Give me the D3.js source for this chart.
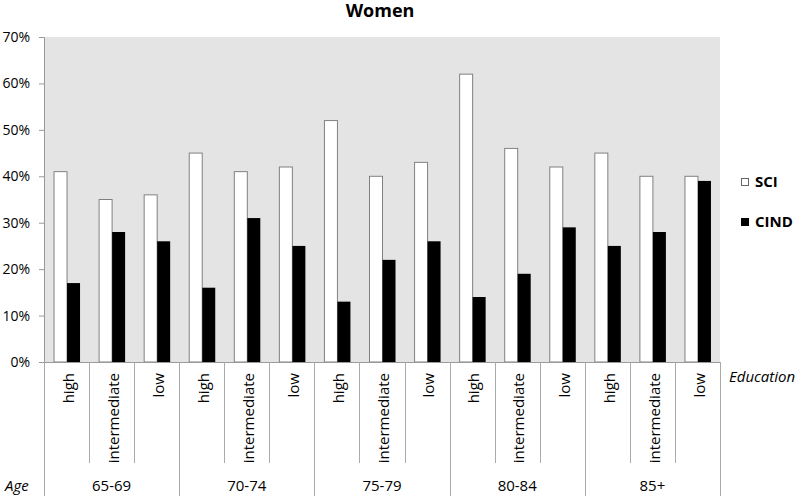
<!DOCTYPE html>
<html>
<head>
<meta charset="utf-8">
<style>
  body { margin: 0; background: #fff; }
  text { font-family: "Open Sans", sans-serif; fill: #000; }
  .title { font-weight: bold; font-size: 18px; }
  .tick text { font-size: 14px; font-family: "Open Sans", sans-serif; }
  .edu { font-size: 15px; }
  .age { font-size: 15px; }
  .lab { font-size: 15px; font-style: italic; }
  .legend text { font-size: 15px; font-weight: bold; }
</style>
</head>
<body>
<svg id="chart" width="800" height="496"></svg>
<script src="https://cdn.jsdelivr.net/npm/d3@7"></script>
<script>
var ages = ['65-69', '70-74', '75-79', '80-84', '85+'];
var education = ['high', 'intermediate', 'low'];
var sci = [41, 35, 36, 45, 41, 42, 52, 40, 43, 62, 46, 42, 45, 40, 40];
var cind = [17, 28, 26, 16, 31, 25, 13, 22, 26, 14, 19, 29, 25, 28, 39];
var yTicks = [0, 10, 20, 30, 40, 50, 60, 70];

var svg = d3.select('#chart');
var plotLeft = 44, plotRight = 720, plotTop = 37, plotBottom = 362;

var cats = [];
ages.forEach(function(a) {
  education.forEach(function(e) { cats.push(a + '|' + e); });
});

var x = d3.scaleBand().domain(cats).range([plotLeft, plotRight]).padding(0);
var y = d3.scaleLinear().domain([0, 70]).range([plotBottom, plotTop]);
var bw = 13;

// plot background
svg.append('rect')
  .attr('x', plotLeft).attr('y', plotTop)
  .attr('width', plotRight - plotLeft).attr('height', plotBottom - plotTop)
  .attr('fill', '#e4e4e4');

svg.append('text').attr('class', 'title')
  .attr('x', 380).attr('y', 17).attr('text-anchor', 'middle')
  .text('Women');

// y axis
var yAxis = svg.append('g')
  .attr('transform', 'translate(' + plotLeft + ',0)')
  .call(d3.axisLeft(y).tickValues(yTicks).tickSize(5).tickPadding(9)
    .tickFormat(function(d) { return d + '%'; }));
yAxis.select('.domain').attr('stroke', '#999');
yAxis.selectAll('.tick line').attr('stroke', '#999');
yAxis.selectAll('.tick text').attr('font-size', null).attr('font-family', null).attr('fill', '#000');

// bars
svg.selectAll('.sci').data(sci).enter().append('rect')
  .attr('class', 'sci')
  .attr('x', function(d, i) { return x(cats[i]) + x.bandwidth() / 2 - bw + 0.5; })
  .attr('y', function(d) { return y(d); })
  .attr('width', bw)
  .attr('height', function(d) { return plotBottom - y(d); })
  .attr('fill', '#fff').attr('stroke', '#808080').attr('stroke-width', 1);

svg.selectAll('.cind').data(cind).enter().append('rect')
  .attr('class', 'cind')
  .attr('x', function(d, i) { return x(cats[i]) + x.bandwidth() / 2 + 0.5; })
  .attr('y', function(d) { return y(d); })
  .attr('width', bw)
  .attr('height', function(d) { return plotBottom - y(d); })
  .attr('fill', '#000');

// x axis line
svg.append('line')
  .attr('x1', plotLeft).attr('x2', plotRight).attr('y1', plotBottom + 0.5).attr('y2', plotBottom + 0.5)
  .attr('stroke', '#999');

// separators
cats.forEach(function(c, i) {
  var xx = Math.round(x(c)) + 0.5;
  svg.append('line')
    .attr('x1', xx).attr('x2', xx)
    .attr('y1', plotBottom).attr('y2', i % 3 === 0 ? 496 : 463)
    .attr('stroke', '#aaa');
});
svg.append('line')
  .attr('x1', plotRight + 0.5).attr('x2', plotRight + 0.5)
  .attr('y1', plotBottom).attr('y2', 496).attr('stroke', '#aaa');

// education labels
svg.selectAll('.edu').data(cats).enter().append('text')
  .attr('class', 'edu')
  .attr('text-anchor', 'end')
  .attr('transform', function(c) {
    return 'translate(' + (x(c) + x.bandwidth() / 2 + 2) + ',373) rotate(-90)';
  })
  .attr('dy', '0.35em')
  .text(function(c) { return c.split('|')[1]; });

// age labels
svg.selectAll('.age').data(ages).enter().append('text')
  .attr('class', 'age')
  .attr('text-anchor', 'middle')
  .attr('x', function(a) { return (x(a + '|high') + x(a + '|low') + x.bandwidth()) / 2; })
  .attr('y', 491)
  .text(function(a) { return a; });

svg.append('text').attr('class', 'lab').attr('x', 5).attr('y', 491).text('Age');
svg.append('text').attr('class', 'lab').attr('x', 729).attr('y', 382).text('Education');

// legend
var legend = svg.append('g').attr('class', 'legend');
var series = [['SCI', '#fff'], ['CIND', '#000']];
series.forEach(function(s, i) {
  var ly = 178 + i * 40;
  legend.append('rect')
    .attr('x', 741.5).attr('y', ly + 0.5).attr('width', 7).attr('height', 7)
    .attr('fill', s[1]).attr('stroke', i === 0 ? '#666' : '#000');
  legend.append('text').attr('x', 755).attr('y', ly + 9).text(s[0]);
});
</script>
</body>
</html>
